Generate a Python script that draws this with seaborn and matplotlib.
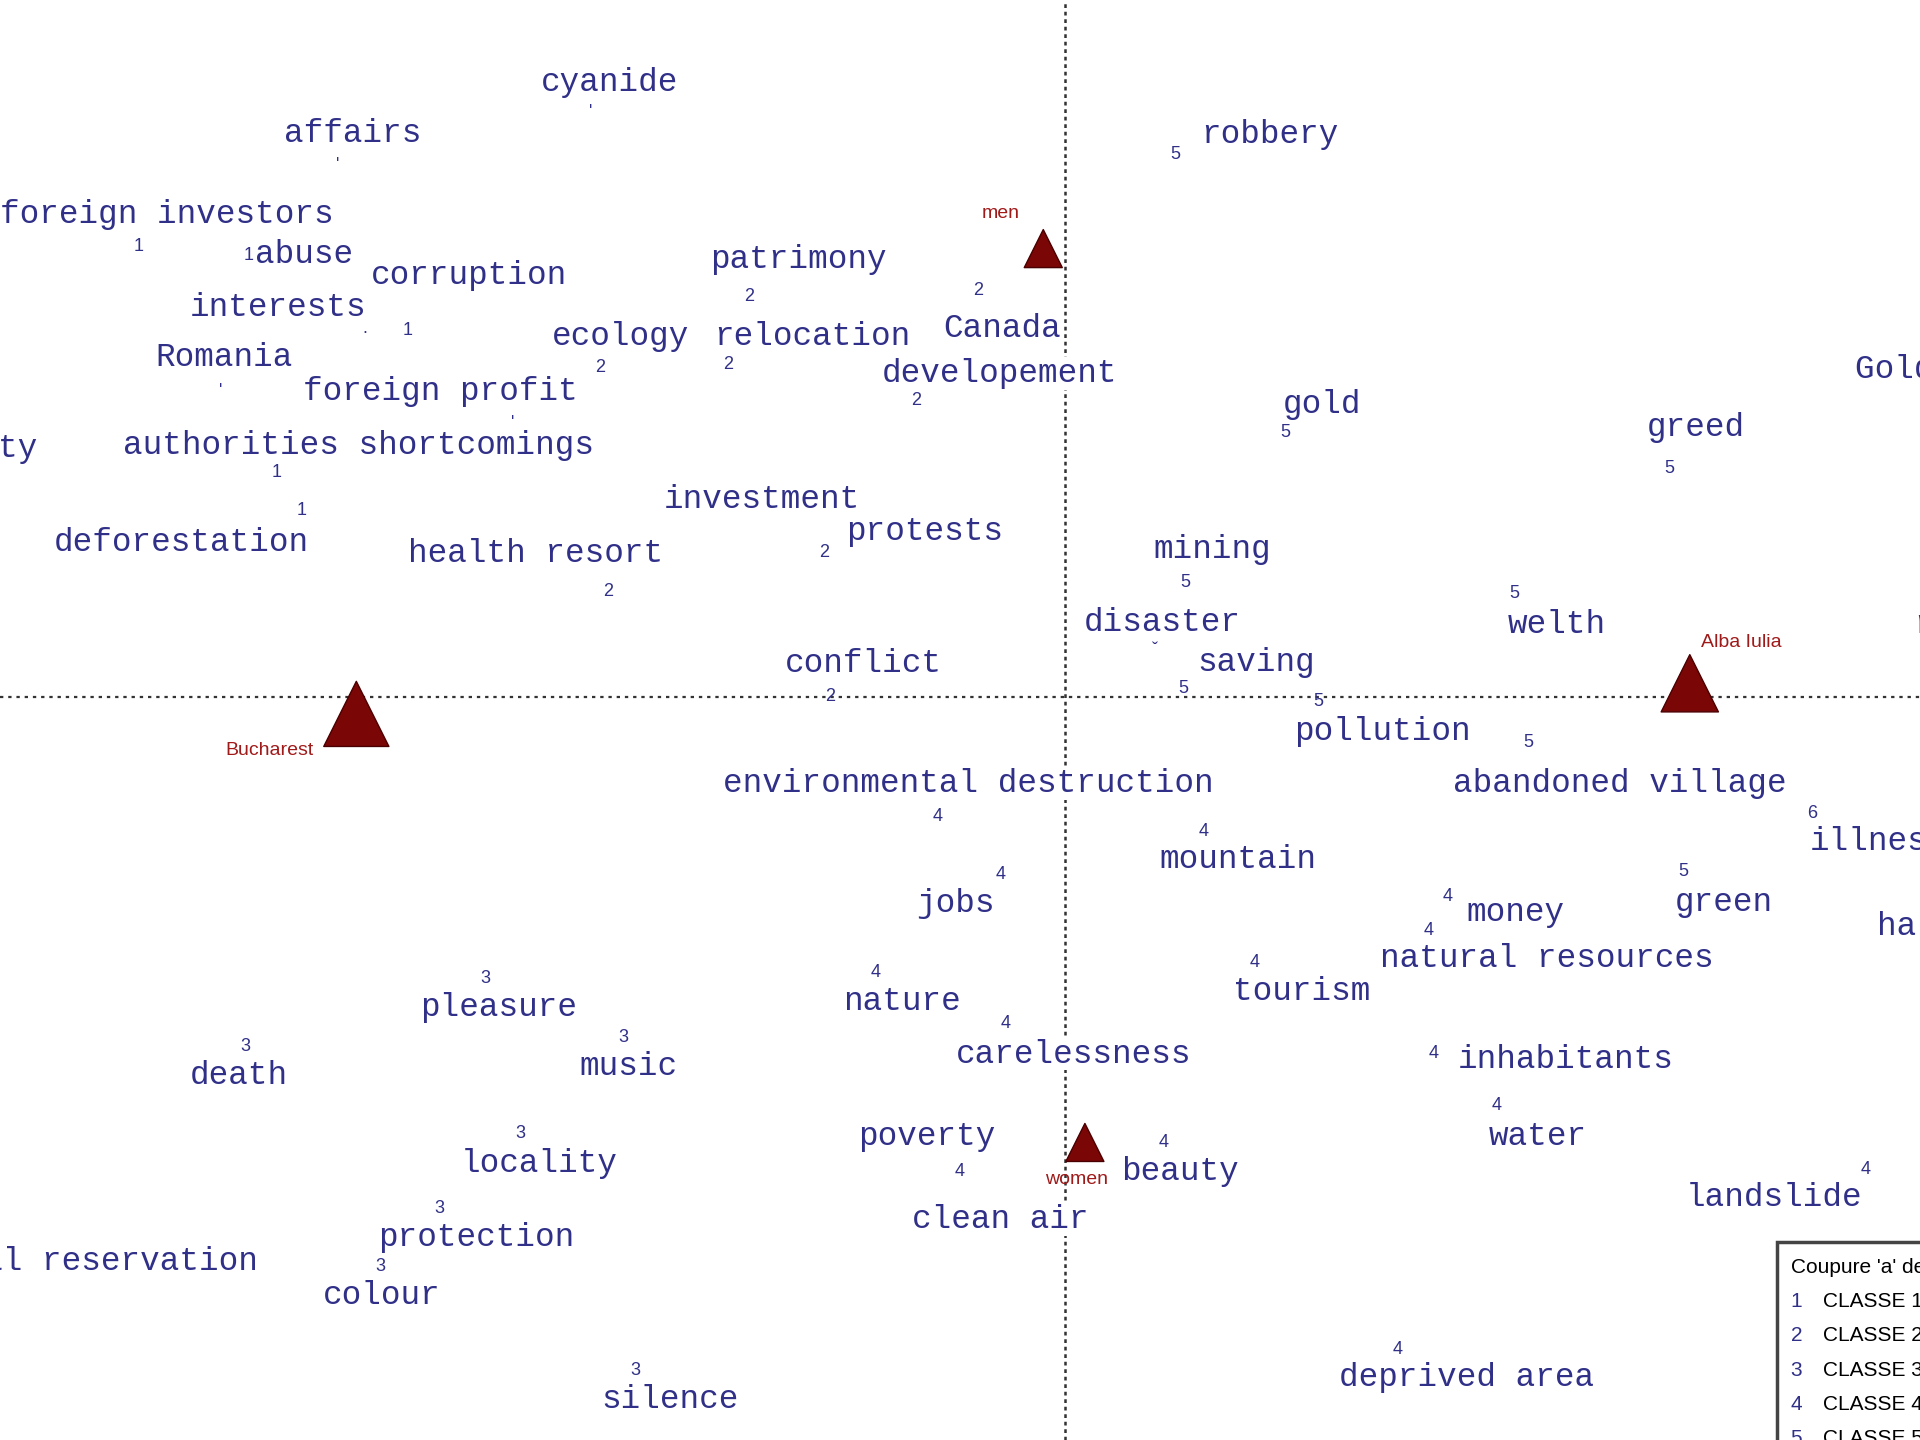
import matplotlib
matplotlib.use("Agg")
import matplotlib.pyplot as plt
import seaborn as sns
from matplotlib.patches import Rectangle

# ------------------------------------------------------------
# data: factorial map (axis 1 horizontal, axis 2 vertical)
# ------------------------------------------------------------

# word labels (centre of the label)
words = ["cyanide", "affairs", "foreign investors", "abuse", "corruption",
         "interests", "Romania", "foreign profit", "ecology", "relocation",
         "patrimony", "Canada", "developement", "authorities shortcomings",
         "deforestation", "investment", "health resort", "protests",
         "conflict", "mining", "disaster", "saving", "pollution", "welth",
         "robbery", "gold", "greed", "abandoned village",
         "environmental destruction", "mountain", "jobs", "money",
         "natural resources", "green", "tourism", "nature", "carelessness",
         "inhabitants", "water", "poverty", "beauty", "clean air",
         "landslide", "deprived area", "pleasure", "music", "death",
         "locality", "protection", "colour", "silence"]
word_x = [-372, -582, -734, -622, -487, -643, -687, -510, -363, -207,
          -218, -52, -54, -577, -722, -248, -433, -115, -165, 120, 79, 156,
          259, 401, 167, 210, 515, 453, -79, 141, -90, 368, 393, 538, 193,
          -133, 7, 409, 386, -113, 94, -53, 579, 328, -463, -357, -675,
          -430, -481, -558, -323]
word_y = [502, 460, 394, 361, 344, 318, 277, 249, 294, 294, 357, 301, 264,
          205, 126, 161, 117, 135, 27, 120, 61, 28, -28, 59, 459, 239, 220,
          -71, -71, -133, -169, -176, -214, -168, -241, -249, -292, -296,
          -359, -359, -388, -427, -409, -556, -254, -302, -309, -381, -442,
          -489, -574]

# words cut by the frame (anchored on their visible edge)
edge_words = ["society", "natural reservation", "Gold Corporation", "risk",
              "illness", "harm"]
edge_x = [-839, -659, 645, 693, 608, 663]
edge_y = [203, -461, 267, 59, -118, -188]
edge_side = ["right", "right", "left", "left", "left", "left"]

# class numbers marking the word points
marks = ["'", "'", "1", "1", ".", "1", "'", "'", "2", "2", "2", "2", "2",
         "1", "1", "2", "2", "2", "5", "ˇ", "5", "5", "5", "5", "5", "5",
         "5", "4", "4", "4", "4", "4", "5", "6", "4", "4", "4", "4", "4",
         "4", "4", "4", "4", "3", "3", "3", "3", "3", "3", "3"]
mark_x = [-388, -594, -757, -667, -572, -537, -690, -451, -380, -275, -258,
          -71, -122, -644, -624, -373, -197, -192, 98, 73, 96, 207, 367, 90,
          180, 493, 378, -104, 113, -53, 312, 297, 505, 610, 155, -155, -49,
          301, 352, -86, 80, 654, 271, -474, -361, -670, -445, -511, -559,
          -351]
mark_y = [485, 442, 368, 360, 301, 299, 257, 231, 269, 271, 327, 332, 242,
          183, 152, 86, 118, 0, 93, 46, 7, -4, 84, 443, 216, 186, -37, -98,
          -110, -145, -163, -191, -143, -95, -217, -225, -267, -291, -334,
          -388, -364, -386, -533, -230, -278, -286, -357, -418, -465, -550]

# illustrative variables (triangles)
sup_names = ["Bucharest", "Alba Iulia", "men", "women"]
sup_x = [-579, 510, -18, 16]
sup_y = [-14, 11, 366, -364]
sup_size = [2200, 1700, 750, 750]
sup_label_x = [-614, 552, -53, 9]
sup_label_y = [-44, 44, 395, -394]
sup_label_ha = ["right", "center", "center", "center"]

# legend of the classes
legend_title = "Coupure 'a' de l'arbre"
classes = [1, 2, 3, 4, 5, 6]

# ------------------------------------------------------------
# plot
# ------------------------------------------------------------

sns.set_theme(style="white")
word_col = "#303088"
red_col = "#7a0606"

fig = plt.figure(figsize=(19.2, 14.4), dpi=100)
ax = fig.add_axes([0, 0, 1, 1])
ax.set_xlim(-870, 698)
ax.set_ylim(-607, 569)
ax.axis("off")

# axes of the factorial map
ax.axhline(0, color="#333333", lw=1.6, ls=(0, (1.5, 2.2)), zorder=1)
ax.axvline(0, color="#333333", lw=1.8, ls=(0, (1.5, 1.5)), zorder=1)

for w, x, y in zip(words, word_x, word_y):
    ax.text(x, y, w, family="Liberation Mono", fontsize=23.5, color=word_col,
            ha="center", va="center", zorder=3,
            bbox=dict(facecolor="white", edgecolor="none", pad=0.5))

for w, x, y, side in zip(edge_words, edge_x, edge_y, edge_side):
    ax.text(x, y, w, family="Liberation Mono", fontsize=23.5, color=word_col,
            ha=side, va="center", zorder=3, clip_on=True)

for m, x, y in zip(marks, mark_x, mark_y):
    # tick-like glyphs sit high in the line, pull them down a bit
    dy = -8 if m in ("'", "ˇ") else 0
    ax.text(x, y + dy, m, family="Liberation Sans", fontsize=13,
            color=word_col, ha="center", va="center", zorder=4)

sns.scatterplot(x=sup_x, y=sup_y, size=sup_size, sizes=(750, 2200),
                marker="^", color=red_col, edgecolor="#4a0000", linewidth=1,
                legend=False, ax=ax, zorder=5)
for n, x, y, ha in zip(sup_names, sup_label_x, sup_label_y, sup_label_ha):
    ax.text(x, y, n, family="Liberation Sans", fontsize=14, color="#a01a1a",
            ha=ha, va="center", zorder=5)

# class legend box (cut by the frame)
ax.add_patch(Rectangle((581, -700), 200, 255, facecolor="white",
                       edgecolor="#444444", lw=2.5, zorder=6))
ax.text(593, -466, legend_title, family="Liberation Sans", fontsize=15,
        color="black", ha="left", va="center", zorder=7, clip_on=True)
for i, k in enumerate(classes):
    yy = -494 - 28 * i
    ax.text(597, yy, str(k), family="Liberation Sans", fontsize=15,
            color="#303088", ha="center", va="center", zorder=7, clip_on=True)
    ax.text(619, yy, "CLASSE %d" % k, family="Liberation Sans", fontsize=15,
            color="black", ha="left", va="center", zorder=7, clip_on=True)

plt.savefig("out.png", dpi=100)
plt.close()
